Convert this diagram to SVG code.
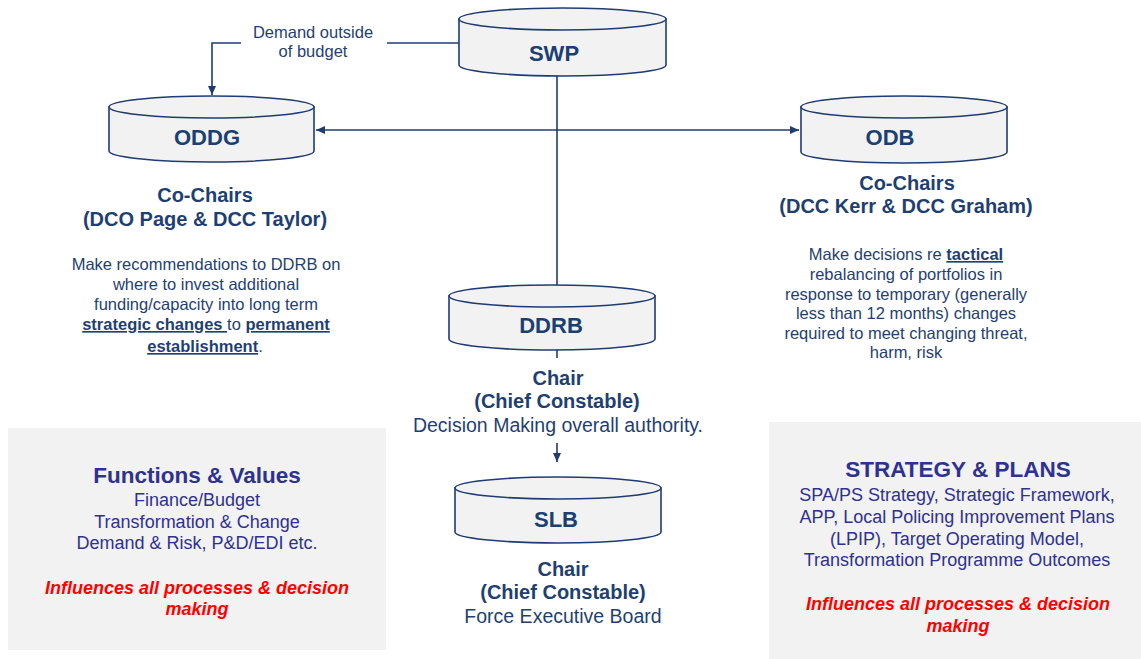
<svg xmlns="http://www.w3.org/2000/svg" width="1141" height="659" viewBox="0 0 1141 659">
<style>
.cyl{fill:#f2f2f2;stroke:#1f3c72;stroke-width:1.6}
.top{fill:#f2f2f2;stroke:#1f3c72;stroke-width:1.6}
.lbl{font-family:"Liberation Sans",Arial,sans-serif;font-weight:bold;font-size:22px;fill:#1a3f73;text-anchor:middle}
.t{font-family:"Liberation Sans",Arial,sans-serif;fill:#1f3f73;text-anchor:middle}
.hd{font-weight:bold;font-size:20px}
.bd{font-size:16.5px}
.cap{font-size:19.5px}
.b{font-weight:bold}
.u{text-decoration:underline}
.box{fill:#f2f2f2}
.bt{font-family:"Liberation Sans",Arial,sans-serif;fill:#2e3190;text-anchor:middle}
.btt{font-weight:bold;font-size:22.5px}
.btx{font-size:18px}
.red{font-family:"Liberation Sans",Arial,sans-serif;fill:#ff0000;font-weight:bold;font-style:italic;font-size:18px;text-anchor:middle}
.ln{fill:none;stroke:#1f3c72;stroke-width:1.6}
</style>
<defs>
<marker id="ah" markerUnits="userSpaceOnUse" markerWidth="10" markerHeight="10" refX="9" refY="5" orient="auto-start-reverse">
<path d="M0,1 L9,5 L0,9 Z" fill="#1f3c72"/>
</marker>
</defs>

<g id="box-functions">
<rect class="box" x="8" y="428" width="378" height="222"/>
<text class="bt btt" x="197" y="483">Functions &amp; Values</text>
<text class="bt btx" x="197" y="506">Finance/Budget</text>
<text class="bt btx" x="197" y="528">Transformation &amp; Change</text>
<text class="bt btx" x="197" y="549">Demand &amp; Risk, P&amp;D/EDI etc.</text>
<text class="red" x="197" y="594">Influences all processes &amp; decision</text>
<text class="red" x="197" y="615">making</text>
</g>

<g id="box-strategy">
<rect class="box" x="769" y="422" width="372" height="237"/>
<text class="bt btt" x="958" y="477">STRATEGY &amp; PLANS</text>
<text class="bt btx" x="957" y="501">SPA/PS Strategy, Strategic Framework,</text>
<text class="bt btx" x="957" y="523">APP, Local Policing Improvement Plans</text>
<text class="bt btx" x="957" y="545">(LPIP), Target Operating Model,</text>
<text class="bt btx" x="957" y="566">Transformation Programme Outcomes</text>
<text class="red" x="958" y="610">Influences all processes &amp; decision</text>
<text class="red" x="958" y="632">making</text>
</g>

<g id="connectors">
<line class="ln" x1="557" y1="76" x2="557" y2="285"/>
<line class="ln" x1="316" y1="130" x2="799" y2="130" marker-start="url(#ah)" marker-end="url(#ah)"/>
<line class="ln" x1="459" y1="43" x2="387" y2="43"/>
<polyline class="ln" points="241,43 212,43 212,95" marker-end="url(#ah)"/>
<line class="ln" x1="557" y1="350" x2="557" y2="358"/>
<line class="ln" x1="557" y1="443" x2="557" y2="462" marker-end="url(#ah)"/>
<text class="t bd" x="313" y="38">Demand outside</text>
<text class="t bd" x="313" y="57">of budget</text>
</g>

<g id="node-swp">
<path class="cyl" d="M459,19 L459,65 A103.5,11 0 0 0 666,65 L666,19 Z"/>
<ellipse class="top" cx="562.5" cy="19" rx="103.5" ry="11"/>
<text class="lbl" x="554" y="61">SWP</text>
</g>

<g id="node-oddg">
<path class="cyl" d="M109,107 L109,151 A102.5,11 0 0 0 314,151 L314,107 Z"/>
<ellipse class="top" cx="211.5" cy="107" rx="102.5" ry="11"/>
<text class="lbl" x="207" y="145">ODDG</text>
<text class="t hd" x="205" y="202">Co-Chairs</text>
<text class="t hd" x="205" y="226">(DCO Page &amp; DCC Taylor)</text>
<text class="t bd" x="206" y="270">Make recommendations to DDRB on</text>
<text class="t bd" x="206" y="290">where to invest additional</text>
<text class="t bd" x="206" y="310">funding/capacity into long term</text>
<text class="t bd" x="206" y="330"><tspan class="b u">strategic changes </tspan>to <tspan class="b u">permanent</tspan></text>
<text class="t bd" x="205" y="352"><tspan class="b u">establishment</tspan>.</text>
</g>

<g id="node-odb">
<path class="cyl" d="M801,107 L801,152 A103,11 0 0 0 1007,152 L1007,107 Z"/>
<ellipse class="top" cx="904" cy="107" rx="103" ry="11"/>
<text class="lbl" x="890" y="145">ODB</text>
<text class="t hd" x="907" y="190">Co-Chairs</text>
<text class="t hd" x="906" y="213">(DCC Kerr &amp; DCC Graham)</text>
<text class="t bd" x="906" y="260">Make decisions re <tspan class="b u">tactical</tspan></text>
<text class="t bd" x="906" y="280">rebalancing of portfolios in</text>
<text class="t bd" x="906" y="300">response to temporary (generally</text>
<text class="t bd" x="906" y="319">less than 12 months) changes</text>
<text class="t bd" x="906" y="339">required to meet changing threat,</text>
<text class="t bd" x="906" y="358">harm, risk</text>
</g>

<g id="node-ddrb">
<path class="cyl" d="M449,296 L449,339 A103,11 0 0 0 655,339 L655,296 Z"/>
<ellipse class="top" cx="552" cy="296" rx="103" ry="11"/>
<text class="lbl" x="551" y="333">DDRB</text>
<text class="t hd" x="558" y="385">Chair</text>
<text class="t hd" x="557" y="408">(Chief Constable)</text>
<text class="t cap" x="558" y="432">Decision Making overall authority.</text>
</g>

<g id="node-slb">
<path class="cyl" d="M455,488 L455,532 A103,11 0 0 0 661,532 L661,488 Z"/>
<ellipse class="top" cx="558" cy="488" rx="103" ry="11"/>
<text class="lbl" x="556" y="527">SLB</text>
<text class="t hd" x="563" y="576">Chair</text>
<text class="t hd" x="563" y="599">(Chief Constable)</text>
<text class="t cap" x="563" y="623">Force Executive Board</text>
</g>
</svg>
